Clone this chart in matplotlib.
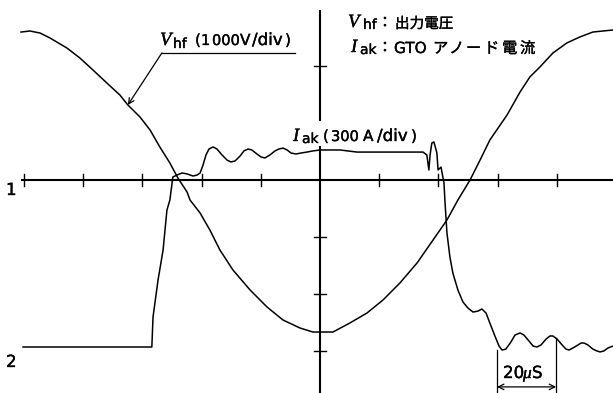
import matplotlib
matplotlib.use('Agg')
import matplotlib.pyplot as plt
import matplotlib.patheffects as pe
from matplotlib.patches import Rectangle
import numpy as np

SANS = ['DejaVu Sans', 'Noto Sans CJK JP']
SERIF = ['Liberation Serif']
JP = ['Noto Sans CJK JP', 'DejaVu Sans']
plt.rcParams['font.family'] = SANS

# 出力電圧 Vhf  (時間 us, 電圧 V)
t_v = [-101.0, -98.0, -94.6, -91.2, -85.5, -81.1, -76.7, -72.0, -67.6, -64.9,
       -60.8, -57.4, -54.1, -50.7, -48.0, -44.9, -43.9, -40.5, -37.2, -33.8,
       -29.4, -23.6, -17.9, -12.5, -6.8, -2.4, 0.0, 4.4, 10.1, 15.9,
       21.3, 27.0, 32.8, 38.2, 42.9, 46.6, 50.7, 54.1, 57.4, 63.2,
       67.6, 70.9, 74.3, 78.7, 83.4, 87.8, 92.2, 99.0]
vhf = [2596, 2614, 2579, 2491, 2316, 2140, 1930, 1702, 1491, 1316,
       1105, 877, 579, 298, 35, -211, -351, -579, -877, -1228,
       -1579, -1930, -2228, -2456, -2596, -2667, -2667, -2667, -2509, -2333,
       -2105, -1807, -1456, -1053, -702, -351, 0, 351, 702, 1140,
       1544, 1807, 1982, 2228, 2404, 2509, 2596, 2632]

# GTOアノード電流 Iak  (時間 us, 電流 A)
t_i = [-100.3, -56.8, -56.4, -54.7, -53.0, -51.7, -50.7, -49.7, -48.3, -46.6,
       -44.9, -42.9, -41.5, -40.5, -39.5, -38.5, -37.5, -36.1, -34.8, -33.1,
       -31.4, -30.1, -28.7, -27.0, -25.7, -24.3, -23.0, -21.3, -19.9, -18.6,
       -16.9, -15.2, -13.9, -12.5, -11.1, -9.8, -8.1, -6.4, -4.4, -2.4,
       0.0, 6.8, 12.5, 20.3, 34.8, 36.1, 36.8, 37.2, 37.8, 38.5,
       39.5, 39.9, 40.9, 41.2, 41.9, 42.2, 42.9, 43.9, 44.9, 46.6,
       48.3, 50.0, 51.7, 53.4, 54.7, 56.1, 57.4, 59.1, 60.5, 61.5,
       62.8, 64.5, 65.9, 67.6, 68.9, 70.6, 72.0, 73.3, 74.7, 76.4,
       77.7, 78.7, 80.1, 81.8, 83.1, 84.1, 85.5, 87.2, 88.2, 89.2,
       90.5, 92.2, 93.6, 94.6, 95.9, 97.3, 99.0]
iak = [0, 0, 158, 353, 511, 721, 774, 895, 905, 916,
       911, 900, 905, 916, 958, 1011, 1042, 1053, 1042, 1011,
       984, 974, 979, 1005, 1032, 1042, 1037, 1016, 1000, 995,
       1011, 1032, 1042, 1047, 1037, 1021, 1016, 1021, 1026, 1032,
       1037, 1037, 1026, 1026, 1026, 1011, 932, 1011, 1074, 1079,
       1021, 932, 947, 921, 863, 774, 600, 474, 389, 300,
       237, 205, 184, 189, 200, 179, 126, 58, 5, -16,
       -11, 26, 63, 74, 63, 32, 5, 0, 11, 42,
       58, 58, 42, 11, -11, -16, -5, 11, 21, 21,
       11, -11, -21, -26, -21, -5, 5]

v_div = 1000.0      # V/div
i_div = 300.0       # A/div
ch2_offset = -2.93  # ch2 のゼロ位置 (div)
t_ticks = [-100, -80, -60, -40, -20, 20, 40, 60, 80]
y_ticks = [2, -1, -2, -3]
scale_t0 = 59.8     # 20us スケール
scale_len = 20

W, H = 613, 393
fig = plt.figure(figsize=(W / 100, H / 100), dpi=100)
ax = fig.add_axes([0, 0, 1, 1])
ax.set_xlim(-108.1, 99.0)
ax.set_ylim(-3.737, 3.158)
ax.axis('off')

bold = [pe.withStroke(linewidth=0.25, foreground='k')]


def put(px, py, s, size=11, family=SANS, style='normal', ha='left'):
    # 画素位置に文字を置く (左上原点, ベースライン基準)
    fig.text(px / W, 1 - py / H, s, fontsize=size, family=family, style=style,
             ha=ha, va='baseline', color='k', path_effects=bold)


# 目盛線
ax.plot([-101, 99.0], [0, 0], c='k', lw=1.5, solid_capstyle='butt')
ax.plot([0, 0], [-3.737, 2.98], c='k', lw=1.5, solid_capstyle='butt')
for tt in t_ticks:
    ax.plot([tt, tt], [-0.11, 0.11], c='k', lw=1.0)
for yy in y_ticks:
    ax.plot([-2.0, 2.0], [yy, yy], c='k', lw=1.0)

# 波形
ax.plot(t_v, np.array(vhf) / v_div, c='k', lw=1.1)
ax.plot(t_i, np.array(iak) / i_div + ch2_offset, c='k', lw=1.1)

# Iak ラベルの下地
ax.add_patch(Rectangle((-1.4, 0.6), 2.8, 0.44, fc='white', ec='none', zorder=3))

# チャンネル番号
put(6, 195, '1', 12)
put(6, 367, '2', 12)

# Vhf ラベルと引出線
put(160, 45, 'V', 13.5, SERIF, 'italic')
put(173, 48, 'hf', 10)
put(195, 45, '(', 11)
put(201, 45, '1', 10.5)
put(212, 45, '000', 10.5)
put(240, 45, 'V', 11)
put(252, 45, '/div', 12)
put(285, 45, ')', 11)
ax.plot([-53.4, -8.4], [2.23, 2.23], c='k', lw=0.9)
ax.annotate('', xy=(-64.9, 1.316), xytext=(-53.4, 2.23),
            arrowprops=dict(arrowstyle='->', lw=0.9, color='k',
                            shrinkA=0, shrinkB=0))

# Iak ラベル
put(293, 141, 'I', 13.5, SERIF, 'italic')
put(302, 143, 'ak', 10)
put(323, 141, '(', 11)
put(331, 141, '300', 10.5)
put(363, 141, 'A', 11)
put(377, 141, '/div', 12)
put(411, 141, ')', 11)

# 凡例
put(348, 27, 'V', 13.5, SERIF, 'italic')
put(363, 29, 'hf', 10)
put(385, 27, '：', 10.5, JP, ha='center')
put(395, 28, '出力電圧', 10.5, JP)
put(351, 52, 'I', 13.5, SERIF, 'italic')
put(360, 54, 'ak', 10)
put(385, 52, '：', 10.5, JP, ha='center')
put(394, 53, 'GTO', 11)
for ch, px in zip('アノード電流', [433, 449, 466, 484, 502, 520]):
    put(px, 53, ch, 11, JP)

# 20us スケール
ax.plot([scale_t0, scale_t0], [-2.98, -3.737], c='k', lw=0.9)
ax.plot([scale_t0 + scale_len, scale_t0 + scale_len], [-2.77, -3.737], c='k', lw=0.9)
ax.annotate('', xy=(scale_t0, -3.63), xytext=(scale_t0 + scale_len, -3.63),
            arrowprops=dict(arrowstyle='<->', lw=0.9, color='k',
                            shrinkA=0, shrinkB=0))
put(503, 378, '20', 12)
put(523, 378, 'μ', 12.5, SERIF, 'italic')
put(532, 378, 'S', 12)

plt.savefig('out.png', dpi=100)
